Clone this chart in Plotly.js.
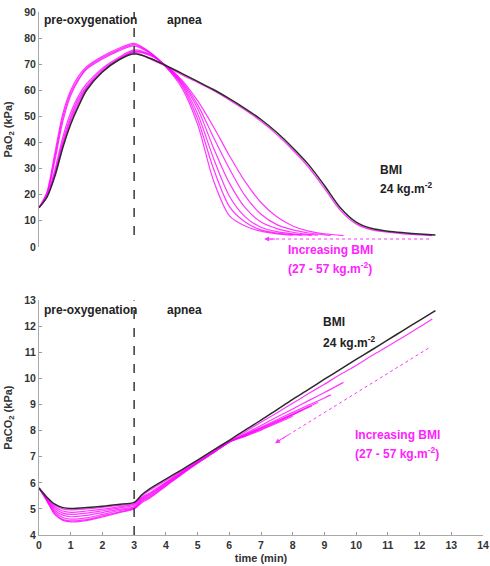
<!DOCTYPE html>
<html><head><meta charset="utf-8">
<script src="https://cdn.plot.ly/plotly-3.0.1.min.js"></script>
<style>html,body{margin:0;padding:0;background:#fff}</style>
</head><body><div id="chart" style="width:490px;height:566px"></div>
<script>
// ---------- PaO2 (top panel) ----------
const o2_t_bmi24 = [0,0.25,0.5,0.75,1,1.25,1.5,2,2.5,3,3.5,4,4.5,5,5.5,6,6.5,7,7.5,8,8.5,9,9.5,10,10.5,11,11.5,12,12.5];
const o2_bmi24   = [15,19,27,38,47,54,60,67,71.5,74,72.3,69.5,66.5,63.4,60.3,56.8,53,48.8,43.8,38,31.5,23.5,15,9.5,7,6,5.4,4.9,4.5];

const o2_t_m1 = [0,0.25,0.5,0.75,1,1.25,1.5,2,2.5,3,3.5,4,4.5,5,5.5,6,6.5,7,7.5,8,8.5,9,9.5,10,10.5,11,11.5,12,12.4];
const o2_m1   = [15,19.1,27.5,38.7,48,55,60.5,67.2,71.6,74.5,72,69.2,66,63,59.9,56.3,52.4,48.1,43,37.1,30.5,22.4,14,8.8,6.5,5.6,5.0,4.6,4.3];

const o2_t_d1 = [0,0.25,0.5,0.75,1,1.25,1.5,2,2.5,3,3.5,4,4.5,5,5.5,6,6.5,7,7.5,8,8.5,9,9.6];
const o2_d1   = [15,19.2,28,39.5,49,56,61,67.5,71.8,74.8,73.3,69.5,64,56,46,35,25,17,11.5,8,6,5,4.3];
const o2_t_d2 = [0,0.25,0.5,0.75,1,1.25,1.5,2,2.5,3,3.5,4,4.5,5,5.5,6,6.5,7,7.5,8,8.5,9,9.2];
const o2_d2   = [15,19.3,28.5,40.5,50,57,61.5,68,72,75,73.6,69.5,63.5,54.5,42,30,19.5,12.5,8.5,6.5,5.3,4.6,4.4];
const o2_t_d3 = [0,0.25,0.5,0.75,1,1.25,1.5,2,2.5,3,3.5,4,4.5,5,5.5,6,6.5,7,7.5,8,8.5,8.8];
const o2_d3   = [15,19.5,29.5,42,51.5,58,62.5,68.5,72.5,75.5,73.8,69.3,63,53,38,24.5,15,9.5,7,5.6,4.8,4.5];
const o2_t_d4 = [0,0.25,0.5,0.75,1,1.25,1.5,2,2.5,3,3.5,4,4.5,5,5.5,6,6.5,7,7.5,8,8.6];
const o2_d4   = [15,20,33,48,58,64,68,72,75,77,74.2,69.2,62.5,51,34,19.5,11.5,7.5,5.8,5,4.4];
const o2_t_d5 = [0,0.25,0.5,0.75,1,1.25,1.5,2,2.5,3,3.5,4,4.5,5,5.5,6,6.5,7,7.5,8,8.3];
const o2_d5   = [15,20.5,34.5,49.5,59,64.5,68.5,72.5,75.5,77.5,74.4,69,62,49,30,15.5,9.5,6.5,5.3,4.7,4.5];
const o2_t_d6 = [0,0.25,0.5,0.75,1,1.25,1.5,2,2.5,3,3.5,4,4.5,5,5.5,6,6.5,7,7.5,8];
const o2_d6   = [15,21,36,51,60,65.5,69,73,76,78,74.6,69,61,47,25.5,12,8,6,5,4.5];

// ---------- PaCO2 (bottom panel) ----------
const co2_t_bmi24 = [0,0.25,0.5,0.75,1,1.5,2,2.5,3,3.25,3.5,4,4.5,5,5.5,6,6.5,7,7.5,8,8.5,9,9.5,10,10.5,11,11.5,12,12.5];
const co2_bmi24   = [5.8,5.45,5.18,5.05,5.02,5.05,5.1,5.17,5.25,5.55,5.78,6.14,6.5,6.87,7.25,7.63,8.02,8.4,8.8,9.2,9.58,9.97,10.35,10.73,11.1,11.48,11.85,12.23,12.6];

const co2_t_m1 = [0,0.25,0.5,0.75,1,1.5,2,2.5,3,3.25,3.5,4,4.5,5,5.5,6,6.5,7,7.5,8,8.5,9,9.5,10,10.5,11,11.5,12,12.4];
const co2_m1   = [5.8,5.43,5.14,5.0,4.96,5.0,5.06,5.13,5.21,5.5,5.72,6.09,6.46,6.84,7.21,7.58,7.95,8.32,8.68,9.05,9.42,9.78,10.15,10.5,10.88,11.23,11.6,11.97,12.28];

const co2_t_d1 = [0,0.25,0.5,0.75,1,1.5,2,2.5,3,3.25,3.5,4,4.5,5,5.5,6,6.5,7,7.5,8,8.5,9,9.6];
const co2_d1   = [5.8,5.4,5.08,4.92,4.87,4.92,4.99,5.08,5.18,5.45,5.62,6.02,6.42,6.8,7.18,7.57,7.88,8.2,8.52,8.83,9.15,9.46,9.85];
const co2_t_d2 = [0,0.25,0.5,0.75,1,1.5,2,2.5,3,3.25,3.5,4,4.5,5,5.5,6,6.5,7,7.5,8,8.5,9,9.2];
const co2_d2   = [5.8,5.38,5.02,4.84,4.79,4.84,4.93,5.03,5.14,5.41,5.58,5.99,6.4,6.79,7.17,7.57,7.85,8.13,8.42,8.7,8.98,9.25,9.37];
const co2_t_d3 = [0,0.25,0.5,0.75,1,1.5,2,2.5,3,3.25,3.5,4,4.5,5,5.5,6,6.5,7,7.5,8,8.5,8.8];
const co2_d3   = [5.8,5.36,4.95,4.76,4.70,4.75,4.86,4.98,5.08,5.37,5.54,5.96,6.38,6.78,7.17,7.57,7.83,8.1,8.37,8.64,8.92,9.08];
const co2_t_d4 = [0,0.25,0.5,0.75,1,1.5,2,2.5,3,3.25,3.5,4,4.5,5,5.5,6,6.5,7,7.5,8,8.6];
const co2_d4   = [5.8,5.34,4.88,4.67,4.61,4.66,4.79,4.93,5.05,5.33,5.5,5.93,6.36,6.77,7.16,7.57,7.82,8.08,8.35,8.62,8.95];
const co2_t_d5 = [0,0.25,0.5,0.75,1,1.5,2,2.5,3,3.25,3.5,4,4.5,5,5.5,6,6.5,7,7.5,8,8.3];
const co2_d5   = [5.8,5.32,4.82,4.6,4.54,4.59,4.73,4.88,5.02,5.29,5.46,5.9,6.34,6.76,7.15,7.56,7.8,8.05,8.32,8.6,8.78];
const co2_t_d6 = [0,0.25,0.5,0.75,1,1.5,2,2.5,3,3.25,3.5,4,4.5,5,5.5,6,6.5,7,7.5,8];
const co2_d6   = [5.8,5.3,4.78,4.56,4.5,4.55,4.69,4.85,5.0,5.25,5.42,5.87,6.32,6.75,7.15,7.56,7.78,8.02,8.28,8.55];

// tick labels
const xTicks = [0,1,2,3,4,5,6,7,8,9,10,11,12,13,14];
const o2Ticks = [0,10,20,30,40,50,60,70,80,90];
const co2Ticks = [4,5,6,7,8,9,10,11,12,13];

const MAG = 'rgba(255,0,255,0.78)';
const BLK = '#2a2a2a';
const GRAY = '#333333';

function mag(x, y, xa, ya) {
  return {x: x, y: y, xaxis: xa, yaxis: ya, mode: 'lines', type: 'scatter',
    line: {color: MAG, width: 1.2, shape: 'spline', smoothing: 0.8}, hoverinfo: 'skip', showlegend: false};
}
function blk(x, y, xa, ya) {
  return {x: x, y: y, xaxis: xa, yaxis: ya, mode: 'lines', type: 'scatter',
    line: {color: BLK, width: 1.5, shape: 'spline', smoothing: 0.8}, hoverinfo: 'skip', showlegend: false};
}

const traces = [
  mag(o2_t_d1, o2_d1, 'x', 'y'), mag(o2_t_d2, o2_d2, 'x', 'y'), mag(o2_t_d3, o2_d3, 'x', 'y'),
  mag(o2_t_d4, o2_d4, 'x', 'y'), mag(o2_t_d5, o2_d5, 'x', 'y'), mag(o2_t_d6, o2_d6, 'x', 'y'),
  mag(o2_t_m1, o2_m1, 'x', 'y'),
  blk(o2_t_bmi24, o2_bmi24, 'x', 'y'),
  mag(co2_t_d1, co2_d1, 'x2', 'y2'), mag(co2_t_d2, co2_d2, 'x2', 'y2'), mag(co2_t_d3, co2_d3, 'x2', 'y2'),
  mag(co2_t_d4, co2_d4, 'x2', 'y2'), mag(co2_t_d5, co2_d5, 'x2', 'y2'), mag(co2_t_d6, co2_d6, 'x2', 'y2'),
  mag(co2_t_m1, co2_m1, 'x2', 'y2'),
  blk(co2_t_bmi24, co2_bmi24, 'x2', 'y2')
];

const FAM = 'Liberation Sans, Arial, sans-serif';
const tickFont = {family: FAM, size: 10.5, color: GRAY, weight: 'bold'};
const titleFont = {family: FAM, size: 11, color: GRAY, weight: 'bold'};
const annFont = {family: FAM, size: 12, color: '#222', weight: 'bold'};
const magFont = {family: FAM, size: 12, color: '#ff22ff', weight: 'bold'};

function ann(x, y, xr, yr, text, font, anchor) {
  return {x: x, y: y, xref: xr, yref: yr, text: text, showarrow: false, font: font,
    xanchor: anchor || 'left', yanchor: 'middle'};
}

const layout = {
  width: 490, height: 566,
  margin: {l: 39, r: 7, t: 12, b: 31},
  paper_bgcolor: '#fff', plot_bgcolor: '#fff',
  showlegend: false,
  xaxis: {domain: [0, 1], range: [0, 14], visible: false, anchor: 'y'},
  yaxis: {domain: [0.551, 1], range: [0, 90], tickvals: o2Ticks, ticks: 'inside', ticklen: 3,
    tickcolor: '#999', showline: true, linecolor: '#aaa', linewidth: 1, showgrid: false, zeroline: false,
    tickfont: tickFont, anchor: 'x', ticklabeloverflow: 'allow',
    title: {text: 'PaO<sub>2</sub> (kPa)', font: titleFont, standoff: 9}},
  xaxis2: {domain: [0, 1], range: [0, 14], tickvals: xTicks, ticks: 'inside', ticklen: 3, tickcolor: '#999',
    showline: true, linecolor: '#aaa', linewidth: 1, showgrid: false, zeroline: false, anchor: 'y2',
    tickfont: tickFont, ticklabeloverflow: 'allow',
    title: {text: 'time (min)', font: titleFont, standoff: 4}},
  yaxis2: {domain: [0, 0.449], range: [4, 13], tickvals: co2Ticks, ticks: 'inside', ticklen: 3,
    tickcolor: '#999', showline: true, linecolor: '#aaa', linewidth: 1, showgrid: false, zeroline: false,
    tickfont: tickFont, anchor: 'x2', ticklabeloverflow: 'allow',
    title: {text: 'PaCO<sub>2</sub> (kPa)', font: titleFont, standoff: 9}},
  shapes: [
    {type: 'line', xref: 'x', yref: 'y', x0: 3, x1: 3, y0: 4.5, y1: 90,
      line: {color: '#444', width: 1.6, dash: 'dash'}},
    {type: 'line', xref: 'x2', yref: 'y2', x0: 3, x1: 3, y0: 4, y1: 13,
      line: {color: '#444', width: 1.6, dash: 'dash'}},
    {type: 'line', xref: 'x', yref: 'y', x0: 12.3, x1: 7.2, y0: 3.0, y1: 3.0,
      line: {color: '#ff33ff', width: 1, dash: 'dot'}},
    {type: 'line', xref: 'x2', yref: 'y2', x0: 12.28, x1: 7.55, y0: 11.16, y1: 7.6,
      line: {color: '#ff33ff', width: 1, dash: 'dot'}}
  ],
  annotations: [
    ann(0.08, 86.8, 'x', 'y', 'pre-oxygenation', annFont),
    ann(4.6, 86.8, 'x', 'y', 'apnea', annFont, 'center'),
    ann(10.7, 29.4, 'x', 'y', 'BMI', annFont),
    ann(10.7, 22.4, 'x', 'y', '24 kg.m<sup>-2</sup>', annFont),
    ann(7.8, 0.545, 'x', 'paper', 'Increasing BMI', magFont),
    ann(7.8, 0.51, 'x', 'paper', '(27 - 57 kg.m<sup>-2</sup>)', magFont),
    ann(0.08, 12.64, 'x2', 'y2', 'pre-oxygenation', annFont),
    ann(4.6, 12.64, 'x2', 'y2', 'apnea', annFont, 'center'),
    ann(8.9, 12.15, 'x2', 'y2', 'BMI', annFont),
    ann(8.9, 11.4, 'x2', 'y2', '24 kg.m<sup>-2</sup>', annFont),
    ann(9.9, 7.83, 'x2', 'y2', 'Increasing BMI', magFont),
    ann(9.9, 7.13, 'x2', 'y2', '(27 - 57 kg.m<sup>-2</sup>)', magFont),
    {x: 7.1, y: 3.0, xref: 'x', yref: 'y', ax: 7.5, ay: 3.0, axref: 'x', ayref: 'y', text: '',
      showarrow: true, arrowhead: 2, arrowsize: 1, arrowwidth: 1, arrowcolor: '#ff33ff'},
    {x: 7.44, y: 7.52, xref: 'x2', yref: 'y2', ax: 7.9, ay: 7.866, axref: 'x2', ayref: 'y2', text: '',
      showarrow: true, arrowhead: 2, arrowsize: 1, arrowwidth: 1, arrowcolor: '#ff33ff'}
  ]
};

Plotly.newPlot('chart', traces, layout, {staticPlot: true, displayModeBar: false});
</script>
</body></html>
